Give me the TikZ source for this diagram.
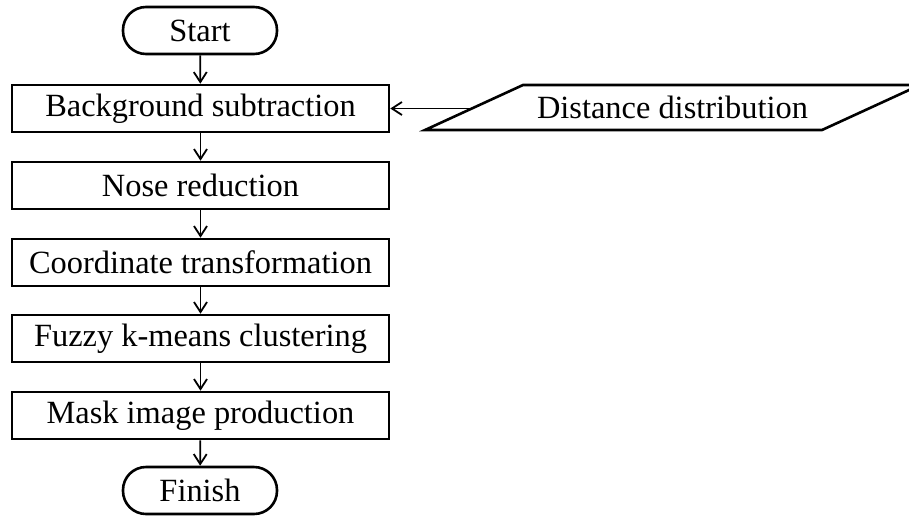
\documentclass[tikz,border=0pt]{standalone}
\usepackage{fontspec}
\setmainfont{Liberation Serif}
\usetikzlibrary{arrows.meta}
\begin{document}
\begin{tikzpicture}[x=1pt,y=-1pt,
  procbox/.style={draw,line width=2.6pt,minimum width=377pt,minimum height=47pt,inner sep=0pt,font=\fontsize{32.4}{38}\selectfont},
  termbox/.style={draw,line width=2.6pt,rounded corners=23pt,minimum width=154pt,minimum height=47pt,inner sep=0pt,font=\fontsize{32.4}{38}\selectfont},
  flow/.style={line width=1.8pt,-{Straight Barb[length=10pt,width=13pt,line width=1.8pt]}}]
\useasboundingbox (0,0) rectangle (909,515);
\node[termbox] (start) at (200,30.5) {Start};
\node[procbox] (bg) at (200.5,108.5) {Background subtraction};
\node[procbox] (nose) at (200.5,185.5) {Nose reduction};
\node[procbox] (coord) at (200.5,262.5) {Coordinate transformation};
\node[procbox] (fuzzy) at (200.5,338.5) {Fuzzy k-means clustering};
\node[procbox] (mask) at (200.5,415.5) {Mask image production};
\node[termbox] (finish) at (200,490.5) {Finish};
% data parallelogram
\draw[line width=2.6pt,line join=miter] (425,130) -- (523,85) -- (920,85) -- (822,130) -- cycle;
\node[inner sep=0pt,font=\fontsize{32.4}{38}\selectfont] (dd) at (672.5,107.5) {Distance distribution};
\coordinate (ddleft) at (472,108.5);
\draw[flow] (start) -- (bg);
\draw[flow] (bg) -- (nose);
\draw[flow] (nose) -- (coord);
\draw[flow] (coord) -- (fuzzy);
\draw[flow] (fuzzy) -- (mask);
\draw[flow] (mask) -- (finish);
\draw[flow] (ddleft) -- (bg.east);
\end{tikzpicture}
\end{document}
